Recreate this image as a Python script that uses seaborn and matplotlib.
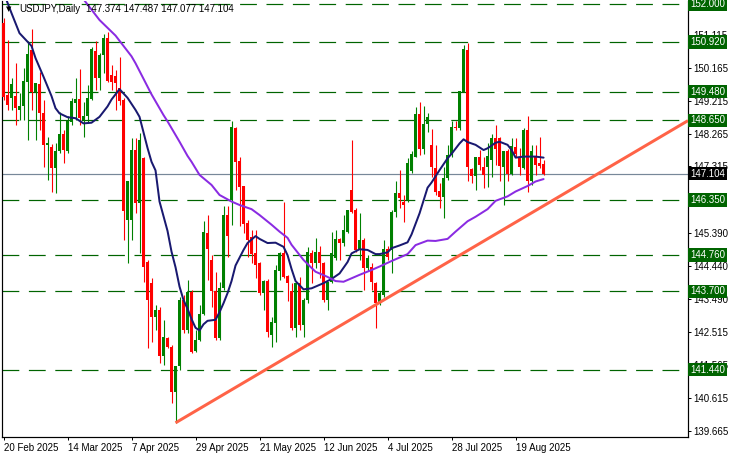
import matplotlib
matplotlib.use("Agg")
import matplotlib.pyplot as plt
import matplotlib.transforms as mtransforms
import seaborn as sns
import pandas as pd

# daily candles, bar 0 = 20 Feb 2025
opens = [151.46, 149.38, 149.29, 149.34, 148.95, 149.05, 149.77, 150.68, 149.48, 149.70,
         148.85, 147.94, 147.89, 147.26, 147.75, 148.26, 147.77, 148.61, 149.16, 149.26,
         148.66, 148.76, 149.26, 150.66, 149.87, 150.54, 151.02, 149.96, 149.93, 149.57,
         149.24, 145.77, 145.77, 147.79, 146.25, 147.55, 144.56, 143.95, 142.97, 143.15,
         141.82, 142.35, 142.10, 140.80, 141.53, 143.45, 142.59, 143.67, 141.98, 142.30,
         143.05, 145.40, 144.61, 143.70, 142.35, 143.79, 145.91, 146.34, 148.44, 147.47,
         146.75, 145.67, 145.26, 144.80, 144.52, 143.65, 144.00, 142.44, 142.80, 144.30,
         144.80, 144.15, 143.70, 142.63, 143.93, 142.73, 143.45, 144.80, 144.52, 144.85,
         144.53, 143.45, 143.98, 144.66, 145.21, 145.09, 145.43, 146.64, 146.06, 144.90,
         145.19, 144.37, 144.42, 143.93, 143.36, 143.60, 144.92, 144.90, 146.01, 146.54,
         146.30, 146.35, 147.17, 147.60, 148.83, 147.81, 148.54, 147.94, 147.26, 146.61,
         146.44, 146.97, 147.65, 148.43, 148.42, 149.48, 150.67, 147.23, 147.05, 147.60,
         147.31, 147.31, 147.50, 148.13, 148.13, 147.29, 147.77, 147.10, 147.89, 147.60,
         147.26, 148.37, 146.88, 147.62, 147.41, 147.374]
highs = [151.60, 150.97, 149.87, 150.30, 149.43, 150.15, 150.93, 151.28, 149.72, 150.06,
         149.24, 148.18, 147.95, 147.98, 148.90, 148.37, 148.76, 149.29, 149.87, 150.13,
         149.19, 149.67, 150.76, 150.93, 150.61, 151.15, 151.19, 150.25, 150.10, 150.47,
         149.30, 146.88, 148.13, 148.13, 148.27, 147.60, 144.60, 144.08, 143.31, 143.26,
         142.88, 142.37, 142.15, 141.55, 143.55, 143.60, 144.03, 143.75, 142.59, 143.31,
         145.75, 145.91, 144.76, 144.27, 143.98, 146.17, 146.17, 148.64, 148.47, 147.60,
         146.75, 145.77, 145.48, 145.48, 144.55, 144.03, 144.05, 142.97, 144.47, 144.85,
         146.30, 144.18, 143.93, 143.93, 144.13, 143.50, 144.99, 144.90, 145.24, 145.00,
         144.56, 143.98, 145.43, 145.48, 145.24, 145.91, 146.06, 148.08, 146.10, 145.96,
         145.24, 144.75, 144.51, 143.98, 143.70, 145.19, 145.00, 146.06, 146.88, 147.21,
         146.50, 147.55, 147.75, 149.03, 149.19, 149.05, 148.85, 148.39, 147.94, 146.83,
         147.31, 147.94, 148.64, 148.64, 149.51, 150.83, 150.88, 147.26, 147.60, 147.79,
         147.60, 147.98, 148.25, 148.51, 148.18, 147.77, 147.81, 148.13, 148.13, 147.84,
         148.42, 148.77, 147.94, 147.94, 148.18, 147.487]
lows = [149.25, 148.95, 148.95, 148.52, 148.66, 148.66, 148.08, 148.95, 148.08, 148.37,
        147.31, 146.93, 146.59, 146.54, 147.70, 147.41, 147.70, 148.52, 148.66, 148.52,
        148.18, 148.61, 149.24, 149.53, 149.53, 150.01, 149.77, 149.53, 148.95, 149.09,
        145.19, 144.53, 145.19, 145.96, 144.80, 143.98, 142.06, 142.25, 142.59, 141.62,
        141.57, 142.06, 140.47, 139.89, 141.43, 142.49, 142.49, 141.91, 141.96, 142.28,
        143.02, 144.03, 143.26, 142.30, 142.30, 143.74, 144.71, 145.62, 146.64, 145.58,
        145.38, 144.71, 144.52, 144.08, 143.60, 143.17, 142.39, 142.10, 142.25, 144.03,
        144.08, 143.41, 142.59, 142.39, 142.59, 142.39, 143.36, 143.93, 144.37, 144.08,
        143.40, 143.17, 143.93, 144.61, 144.61, 145.00, 145.38, 145.96, 144.85, 144.61,
        143.74, 144.30, 143.74, 142.63, 143.30, 143.55, 144.60, 144.22, 145.86, 146.10,
        145.72, 146.30, 147.12, 147.60, 147.65, 147.68, 148.30, 147.02, 146.49, 146.11,
        145.82, 146.93, 147.60, 148.37, 148.37, 149.48, 146.88, 146.83, 146.64, 147.21,
        146.68, 146.73, 147.02, 147.36, 146.88, 146.20, 146.88, 147.07, 147.60, 147.07,
        147.23, 146.59, 146.78, 147.07, 147.26, 147.077]
closes = [149.33, 149.09, 149.70, 149.00, 149.06, 149.80, 150.57, 149.48, 149.72, 148.85,
          147.94, 148.00, 147.26, 147.75, 148.26, 147.79, 148.64, 149.22, 149.26, 148.71,
          148.78, 149.29, 150.70, 149.87, 150.55, 151.02, 149.80, 149.77, 149.72, 149.22,
          146.04, 146.88, 147.79, 146.25, 148.08, 144.42, 143.45, 142.97, 143.15, 141.82,
          142.37, 142.10, 140.80, 141.53, 143.45, 142.59, 143.67, 141.96, 142.30, 143.05,
          145.43, 144.92, 143.70, 142.35, 143.79, 145.91, 145.30, 148.47, 147.45, 146.73,
          145.65, 145.19, 144.78, 144.47, 143.65, 144.00, 142.54, 142.83, 144.32, 144.80,
          144.13, 143.93, 142.63, 143.93, 142.73, 143.45, 144.85, 144.52, 144.85, 144.52,
          143.45, 143.98, 144.80, 145.21, 145.09, 145.48, 146.06, 146.01, 144.90, 145.19,
          144.37, 144.66, 143.98, 143.36, 143.65, 144.92, 144.71, 146.01, 146.54, 146.40,
          146.20, 147.41, 147.68, 148.83, 147.81, 148.54, 148.74, 147.29, 146.59, 146.44,
          146.97, 147.65, 148.45, 148.41, 149.51, 150.70, 147.31, 147.05, 147.60, 147.36,
          147.07, 147.62, 148.13, 147.81, 147.33, 147.77, 147.11, 147.91, 147.68, 147.31,
          148.37, 146.88, 147.77, 147.36, 147.33, 147.104]

# moving averages (bar index, price)
fast_bar = [0, 2, 4, 7, 8, 10, 12, 13, 14, 16, 18, 20, 22, 24, 26, 27, 29, 31, 33, 34,
            36, 37, 38, 39, 41, 42, 43, 44, 45, 46, 47, 48, 49, 50, 51, 53, 54, 55, 56, 57,
            58, 60, 61, 63, 64, 66, 68, 70, 71, 72, 73, 75, 77, 80, 82, 84, 86, 87, 89, 91,
            93, 94, 96, 97, 99, 101, 102, 104, 106, 107, 109, 111, 112, 114, 115, 116, 118,
            120, 121, 123, 124, 126, 127, 128, 130, 133, 135]
fast_val = [152.35, 151.75, 151.17, 150.80, 150.45, 149.91, 149.35, 149.00, 148.85, 148.74,
            148.71, 148.56, 148.58, 148.75, 149.05, 149.25, 149.55, 149.30, 148.95, 148.75,
            147.85, 147.45, 147.20, 146.30, 145.45, 144.85, 144.40, 143.84, 143.45, 143.20,
            142.90, 142.65, 142.57, 142.75, 142.85, 142.88, 143.10, 143.36, 143.65, 144.00,
            144.45, 144.90, 145.10, 145.30, 145.22, 145.10, 145.11, 144.99, 144.75, 144.35,
            144.00, 143.76, 143.79, 143.94, 144.06, 144.22, 144.55, 144.80, 144.92, 144.90,
            144.78, 144.78, 144.83, 144.95, 145.03, 145.12, 145.35, 145.96, 146.70, 146.85,
            147.21, 147.55, 147.68, 147.98, 148.10, 148.02, 147.94, 147.79, 147.84, 148.00,
            148.03, 147.94, 147.79, 147.57, 147.60, 147.60, 147.57]
slow_bar = [19, 20, 24, 28, 32, 33, 35, 37, 38, 40, 41, 44, 46, 47, 49, 52, 54, 57, 59, 62,
            64, 67, 69, 71, 72, 75, 77, 78, 81, 83, 85, 87, 89, 92, 94, 97, 101, 103, 106,
            108, 111, 113, 116, 118, 121, 123, 126, 128, 131, 133, 135]
slow_val = [152.40, 152.15, 151.55, 151.10, 150.50, 150.30, 149.85, 149.40, 149.20, 148.80,
            148.62, 148.03, 147.62, 147.45, 147.07, 146.78, 146.49, 146.30, 146.20, 146.08,
            145.91, 145.63, 145.43, 145.25, 145.05, 144.61, 144.38, 144.27, 144.12, 144.00,
            143.98, 144.08, 144.18, 144.32, 144.42, 144.58, 144.78, 145.04, 145.17, 145.16,
            145.22, 145.43, 145.73, 145.86, 146.08, 146.32, 146.45, 146.59, 146.75, 146.88,
            146.95]

# support/resistance levels and trend line anchors
levels = [152.000, 150.920, 149.480, 148.650, 146.350, 144.760, 143.700, 141.440]
trend_bar = [43, 171.1]
trend_val = [139.90, 148.64]
last_price = 147.104

price_ticks = [151.115, 150.165, 149.215, 148.265, 147.315, 145.390, 144.440,
               143.490, 142.515, 141.565, 140.615, 139.665]
date_ticks = [0, 16, 32, 48, 64, 80, 96, 112, 128]
date_labels = ["20 Feb 2025", "14 Mar 2025", "7 Apr 2025", "29 Apr 2025", "21 May 2025",
               "12 Jun 2025", "4 Jul 2025", "28 Jul 2025", "19 Aug 2025"]

sns.set_style("white")
plt.rcParams['font.family'] = ['Liberation Sans', 'DejaVu Sans']

fig = plt.figure(figsize=(7.33, 4.55), dpi=100)
ax = fig.add_axes([2 / 733, 18 / 455, 686 / 733, 436 / 455])
px = 0.72  # one pixel in points

df = pd.DataFrame({"o": opens, "h": highs, "l": lows, "c": closes})
df["bar"] = range(len(df))
df["col"] = ["#008000" if c >= o else "#ff0000" for o, c in zip(df.o, df.c)]

for lv in levels:
    ax.axhline(lv, color="#006400", lw=1.2 * px, linestyle=(0, (14, 8)), zorder=1)
ax.axhline(last_price, color="#778899", lw=1.2 * px, zorder=1)

# candles
ax.vlines(df.bar, df.l, df.h, colors=df.col, lw=1.1 * px, zorder=2)
body = (df.c - df.o).where((df.c - df.o).abs() > 0.03, 0.03)
ax.bar(df.bar, body, bottom=df.o, width=0.72, color=df.col, linewidth=0, zorder=3)

# moving averages
sns.lineplot(x=fast_bar, y=fast_val, ax=ax, color="#191970", lw=2 * px, zorder=4)
sns.lineplot(x=slow_bar, y=slow_val, ax=ax, color="#8a2be2", lw=2 * px, zorder=4)
ax.plot(trend_bar, trend_val, color="#ff6347", lw=3 * px, zorder=5, solid_capstyle="butt")

ax.set_xlim(-0.375, 171.1)
ax.set_ylim(139.49, 152.10)

ax.yaxis.tick_right()
ax.set_yticks(price_ticks)
ax.set_yticklabels([f"{t:.3f}" for t in price_ticks])
ax.set_xticks(date_ticks)
ax.set_xticklabels(date_labels, ha="left")
ax.tick_params(axis="both", length=3 * px, width=px, color="black", labelsize=7,
               labelcolor="black", pad=1.5, direction="out")
ax.tick_params(axis="y", right=True, left=False)
ax.tick_params(axis="x", bottom=True, pad=2)
for name in ["left", "right", "bottom"]:
    ax.spines[name].set_color("black")
    ax.spines[name].set_linewidth(1.2 * px)
ax.spines["top"].set_visible(False)
ax.set_xlabel("")
ax.set_ylabel("")

# price labels on the right scale
tr = mtransforms.blended_transform_factory(ax.transAxes, ax.transData)
for lv in levels:
    ax.text(1.003, lv, f"{lv:.3f}", transform=tr, fontsize=7, color="white",
            va="center", ha="left", zorder=10, clip_on=False,
            bbox=dict(boxstyle="square,pad=0.18", fc="#006400", ec="none"))
ax.text(1.003, last_price, f"{last_price:.3f}", transform=tr, fontsize=7, color="white",
        va="center", ha="left", zorder=10, clip_on=False,
        bbox=dict(boxstyle="square,pad=0.18", fc="black", ec="none"))

# header
fig.text(9 / 733, 1 - 9 / 455, "\u25bc", fontsize=5, color="black", ha="center", va="center",
         family="DejaVu Sans")
fig.text(19 / 733, 1 - 9 / 455, "USDJPY,Daily", fontsize=7, color="black", va="center")
fig.text(86 / 733, 1 - 9 / 455, f"{opens[-1]:.3f} {highs[-1]:.3f} {lows[-1]:.3f} {closes[-1]:.3f}",
         fontsize=7, color="black", va="center")

fig.savefig("out.png", dpi=100)
